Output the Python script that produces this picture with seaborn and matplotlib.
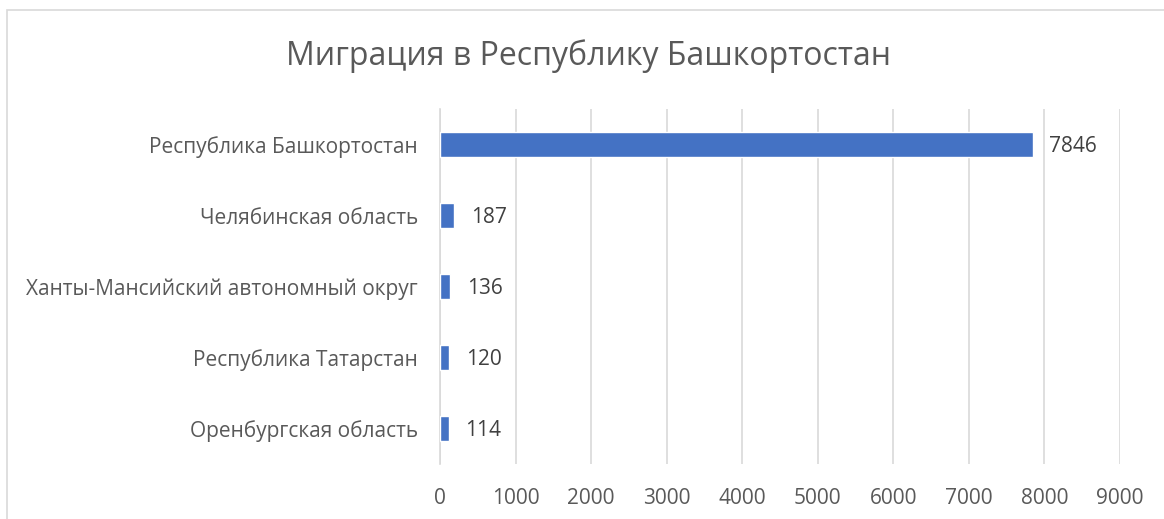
import matplotlib
matplotlib.use("Agg")
import matplotlib.pyplot as plt
from matplotlib.patches import Rectangle
import seaborn as sns
import pandas as pd

regions = [
    "Республика Башкортостан",
    "Челябинская область",
    "Ханты-Мансийский автономный округ",
    "Республика Татарстан",
    "Оренбургская область",
]
migrants = [7846, 187, 136, 120, 114]
x_ticks = [0, 1000, 2000, 3000, 4000, 5000, 6000, 7000, 8000, 9000]
title = "Миграция в Республику Башкортостан"

df = pd.DataFrame({"region": regions, "migrants": migrants})

sns.set_theme(style="white")
plt.rcParams["font.family"] = ["Open Sans", "DejaVu Sans"]

W, H = 1164, 519
fig = plt.figure(figsize=(W / 100, H / 100), dpi=100)
ax = fig.add_axes([440 / W, 1 - 464 / H, (1120 - 440) / W, (464 - 109) / H])

sns.barplot(data=df, x="migrants", y="region", orient="h", color="#4472C4",
            saturation=1, width=0.35, ax=ax, zorder=3)

ax.set_xlim(0, 9000)
ax.set_ylim(4.5, -0.5)
ax.set_xticks(x_ticks)
ax.set_xticklabels([str(t) for t in x_ticks])
ax.xaxis.grid(True, color="#d9d9d9", linewidth=1.2, zorder=0)
ax.set_axisbelow(True)
for s in ["top", "right", "bottom"]:
    ax.spines[s].set_visible(False)
ax.spines["left"].set_color("#d9d9d9")
ax.spines["left"].set_linewidth(1.2)
ax.tick_params(axis="y", length=0, labelsize=15, labelcolor="#595959", pad=16)
ax.tick_params(axis="x", length=0, labelsize=15, labelcolor="#595959", pad=17)
ax.set_xlabel("")
ax.set_ylabel("")

for i, v in enumerate(migrants):
    ax.annotate(str(v), xy=(v, i), xytext=(12, -1.5), textcoords="offset points",
                va="center", ha="left", fontsize=15, color="#404040")

fig.text(0.506, 1 - 56 / H, title, ha="center", va="center",
         fontsize=23, color="#595959")

fig.patches.append(Rectangle((7 / W, -0.1), 1.2, 1 - 10 / H + 0.1,
                             transform=fig.transFigure, fill=False,
                             edgecolor="#d9d9d9", linewidth=1.2))

fig.savefig("out.png", dpi=100)
